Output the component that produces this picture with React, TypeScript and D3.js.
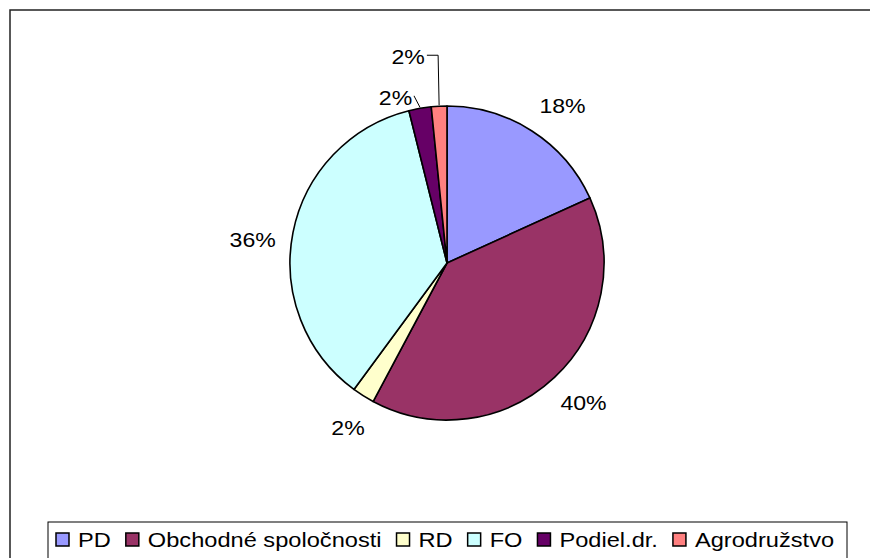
import React, { useEffect, useRef } from "react";
import * as d3 from "d3";

const categories = ["PD", "Obchodné spoločnosti", "RD", "FO", "Podiel.dr.", "Agrodružstvo"];
const shares = [18.2, 39.6, 2.3, 36.0, 2.3, 1.6];
const colors = ["#9999ff", "#993366", "#ffffcc", "#ccffff", "#660066", "#ff8080"];

const App = () => {
  const svgRef = useRef<SVGSVGElement | null>(null);

  useEffect(() => {
    if (!svgRef.current) return;
    document.body.style.margin = "0";

    const svg = d3.select(svgRef.current);
    svg.selectAll("*").remove();

    const width = 870;
    const height = 558;
    const cx = 447;
    const cy = 263;
    const radius = 157;
    const font = "'Liberation Sans', Arial, sans-serif";
    const labelStretch = 1.1;
    const legendStretch = 1.125;

    // Chart area border (right and bottom run off the picture)
    svg
      .append("rect")
      .attr("x", 10)
      .attr("y", 10)
      .attr("width", width)
      .attr("height", height)
      .attr("fill", "#fff")
      .attr("stroke", "#222")
      .attr("stroke-width", 1.5);

    const pie = d3
      .pie<number>()
      .sort(null)
      .value((d) => d);
    const arcs = pie(shares);
    const total = d3.sum(shares);

    const arc = d3.arc<d3.PieArcDatum<number>>().innerRadius(0).outerRadius(radius);

    const g = svg.append("g").attr("transform", `translate(${cx},${cy})`);

    g.selectAll("path")
      .data(arcs)
      .enter()
      .append("path")
      .attr("d", arc)
      .attr("fill", (_, i) => colors[i])
      .attr("stroke", "#000")
      .attr("stroke-width", 1.6)
      .attr("stroke-linejoin", "round");

    // Data labels
    const labelRadius = 195;
    // nudges for label boxes; the small top slices get leader lines
    const nudges: [number, number][] = [
      [10, 7],
      [3, -2],
      [5, 0],
      [-3, 15],
      [-18, 27],
      [-29, -11],
    ];

    arcs.forEach((a, i) => {
      const mid = (a.startAngle + a.endAngle) / 2;
      const lx = Math.sin(mid) * labelRadius + nudges[i][0];
      const ly = -Math.cos(mid) * labelRadius + nudges[i][1];
      const t = g
        .append("text")
        .attr("transform", `translate(${lx},${ly}) scale(${labelStretch},1)`)
        .attr("text-anchor", "middle")
        .attr("dominant-baseline", "central")
        .attr("font-family", font)
        .attr("font-size", 21)
        .attr("fill", "#000")
        .text(`${Math.round((a.data / total) * 100)}%`);
      if (i >= 4) {
        const w = (t.node() as SVGTextElement).getComputedTextLength() * labelStretch;
        const ex = Math.sin(mid) * radius;
        const ey = -Math.cos(mid) * radius;
        const textRight = lx + w / 2 + 2;
        const bendX = i === 5 ? ex - 1 : ex - 6;
        g.append("polyline")
          .attr("points", `${textRight},${ly - 2} ${bendX},${ly - 2} ${ex},${ey - 1}`)
          .attr("fill", "none")
          .attr("stroke", "#000")
          .attr("stroke-width", 1);
      }
    });

    // Legend
    const legend = svg.append("g");
    legend
      .append("rect")
      .attr("x", 48)
      .attr("y", 522)
      .attr("width", 799)
      .attr("height", 60)
      .attr("fill", "#fff")
      .attr("stroke", "#000")
      .attr("stroke-width", 1);

    let x = 56;
    categories.forEach((c, i) => {
      legend
        .append("rect")
        .attr("x", x)
        .attr("y", 533)
        .attr("width", 13)
        .attr("height", 13)
        .attr("fill", colors[i])
        .attr("stroke", "#000")
        .attr("stroke-width", 1.5);
      const t = legend
        .append("text")
        .attr("transform", `translate(${x + 22},547) scale(${legendStretch},1)`)
        .attr("font-family", font)
        .attr("font-size", 21)
        .attr("fill", "#000")
        .text(c);
      const w = (t.node() as SVGTextElement).getComputedTextLength() * legendStretch;
      x += 22 + w + 15;
    });
  }, []);

  return <svg ref={svgRef} width={870} height={558} style={{ display: "block" }} />;
};

export default App;
